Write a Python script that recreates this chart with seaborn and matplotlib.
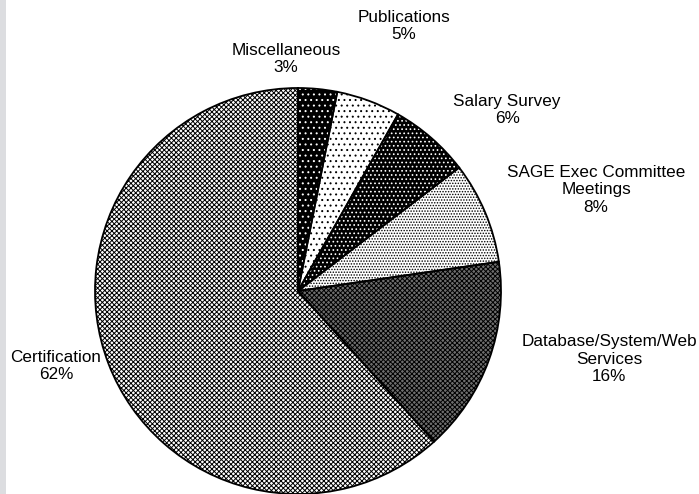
import matplotlib
matplotlib.use("Agg")
import matplotlib.pyplot as plt
import seaborn as sns
from matplotlib.patches import Rectangle

# ---- data ----
categories = ["Miscellaneous", "Publications", "Salary Survey",
              "SAGE Exec Committee\nMeetings", "Database/System/Web\nServices",
              "Certification"]
shares = [3.1, 5.1, 6.4, 8.1, 15.6, 61.7]
pct_labels = ["3%", "5%", "6%", "8%", "16%", "62%"]

# ---- styles (not data) ----
face = ["black", "white", "black", "white", "#6e6e6e", "white"]
hatch_col = ["white", "black", "white", "black", "black", "black"]
hatches = ["...", "...", "....", "......", "xxxxxxx", "xxxxxxx"]
label_pos = [(-0.059, 1.143), (0.522, 1.305), (1.030, 0.892),
             (1.468, 0.498), (1.532, -0.335), (-1.192, -0.369)]

sns.set_theme(style="white")
plt.rcParams["font.family"] = ["Liberation Sans", "DejaVu Sans"]
plt.rcParams["hatch.linewidth"] = 0.7

W, H = 699, 494
fig = plt.figure(figsize=(W / 100, H / 100), dpi=100)
fig.patch.set_facecolor("white")
fig.patches.append(Rectangle((0, 0), 6 / W, 1, transform=fig.transFigure,
                             facecolor="#dcdde0", edgecolor="none", zorder=0))
ax = fig.add_axes([0, 0, 1, 1])
ax.set_facecolor("none")

scale = 203.0
cx, cy = 298.0, 291.0
wedges, _ = ax.pie(shares, startangle=90, counterclock=False, radius=1.0,
                   wedgeprops=dict(linewidth=0))
for w, fc, hc, h in zip(wedges, face, hatch_col, hatches):
    w.set_facecolor(fc)
    w.set_edgecolor(hc)
    w.set_hatch(h)
    w.set_linewidth(0)

# outlines
outl, _ = ax.pie(shares, startangle=90, counterclock=False, radius=1.0,
                 wedgeprops=dict(facecolor="none", edgecolor="black", linewidth=1.3))

for name, pct, (lx, ly) in zip(categories, pct_labels, label_pos):
    ax.text(lx, ly, f"{name}\n{pct}", ha="center", va="center",
            multialignment="center", fontsize=12.3, linespacing=1.2, color="black")

ax.set_xlim(-cx / scale, (W - cx) / scale)
ax.set_ylim(-(H - cy) / scale, cy / scale)
ax.set_aspect("auto")
ax.axis("off")

fig.savefig("out.png", dpi=100)
